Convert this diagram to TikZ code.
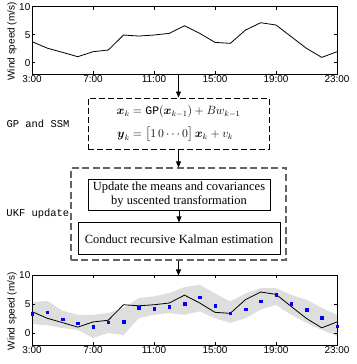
\documentclass[tikz,border=0pt]{standalone}
\usepackage{amsmath}
\usepackage{fontspec}
\setmainfont{Liberation Serif}
\setsansfont{Liberation Sans}
\setmonofont{Liberation Mono}
\usepackage{xcolor}
\usepackage{tikz}
\usetikzlibrary{arrows.meta,positioning,plotmarks}

\definecolor{bandgray}{RGB}{222,222,222}
\definecolor{ukfgray}{RGB}{100,100,100}

% frame, ticks and measured wind speed of one plot
\newcommand{\windframe}{%
  \draw[line width=0.8bp] (0,3.75) \foreach[count=\i] \v in {2.6,1.85,1.07,1.96,2.26,4.94,4.76,4.94,5.24,6.6,5.24,3.63,3.45,5.83,7.14,6.73,4.64,2.56,0.95,1.96} { -- (\i,\v) };
  \draw[line width=0.7bp] (0,-2) rectangle (20,10);
  \foreach \v in {0,5,10} {
    \draw[line width=0.7bp] (0,\v) -- ++(3bp,0) (20,\v) -- ++(-3bp,0);
    \node[ticklab, anchor=east] (y\v) at (0,\v) {\v};
  }
  \foreach \h/\t in {0/3:00,4/7:00,8/11:00,12/15:00,16/19:00,20/23:00} {
    \draw[line width=0.7bp] (\h,-2) -- ++(0,3bp) (\h,10) -- ++(0,-3bp);
    \node[ticklab, anchor=north] (x\h) at (\h,-2) {\t};
  }
  \node[ticklab, rotate=90] (ylab) at (-1.31,3.8) {Wind speed (m/s)};
}

\begin{document}
\begin{tikzpicture}[
  x=1bp, y=1bp,
  ticklab/.style={font=\sffamily\fontsize{10}{11}\selectfont, inner sep=1.5bp},
  side/.style={font=\ttfamily\fontsize{10.5}{12}\selectfont, inner sep=0pt},
  dbox/.style={draw, line width=0.9bp, dash pattern=on 6bp off 3bp},
  ubox/.style={draw=ukfgray, line width=1.1bp, dash pattern=on 7bp off 3.5bp},
  sbox/.style={draw, line width=0.8bp, align=center, inner sep=2pt, font=\fontsize{12.5}{15}\selectfont},
  arr/.style={-{Triangle[length=6bp,width=5bp]}, line width=0.7bp}
]
  \useasboundingbox (0,0) rectangle (357,364);

  % measured wind speed
  \begin{scope}[shift={(32,301.3)}, x=15.25bp, y=5.6bp, name prefix=top-]
    \windframe
    \coordinate (out) at (9.6,-2);
  \end{scope}

  % model boxes
  \node[dbox, minimum width=181bp, minimum height=51bp] (gp) at (178.5,240.5)
    {\fontsize{11.5}{13}\selectfont
     $\begin{aligned}
       \boldsymbol{x}_k &= \mathtt{GP}(\boldsymbol{x}_{k-1}) + B w_{k-1}\\[5bp]
       \boldsymbol{y}_k &= \bigl[1\,0\cdots 0\bigr]\,\boldsymbol{x}_k + v_k
     \end{aligned}$};
  \node[side, left=18bp of gp.west] (gplab) {GP and SSM};
  \node[ubox, minimum width=215bp, minimum height=92bp] (ukf) at (178.5,150) {};
  \node[side, left=1bp of ukf.west] (ukflab) {UKF update};
  \node[sbox, minimum width=182bp, minimum height=31bp] (upd) at (179,169.5)
    {Update the means and covariances\\by uscented transformation};
  \node[sbox, minimum width=202bp, minimum height=32bp, below=12bp of upd] (kal)
    {Conduct recursive Kalman estimation};

  % UKF estimate
  \begin{scope}[shift={(32,30.7)}, x=15.25bp, y=5.78bp, name prefix=bot-]
    \fill[bandgray] (0,5.4) \foreach[count=\i] \v in {5.6,3.9,3.2,3.2,3.5,4.4,6.1,6.4,6.95,8.0,8.4,6.9,5.5,6.9,7.8,7.8,6.65,5.8,4.4,3.2} { -- (\i,\v) }
      -- (20,-0.5) \foreach[count=\i] \v in {0.6,1.8,3.2,4.9,4.1,2.6,1.8,2.6,3.8,3.2,3.5,3.2,2.6,-0.3,0.05,-0.8,0.6,0.9,1.4,1.6} { -- (20-\i,\v) } -- cycle;
    \windframe
    \draw[blue] plot[only marks, mark=square*, mark size=1.3bp] coordinates {(0,3.35) (1,3.64) (2,2.43) (3,1.73) (4,1.16) (5,1.9) (6,2.0) (7,4.45) (8,4.22) (9,4.57) (10,5.1) (11,6.24) (12,4.74) (13,3.47) (14,4.16) (15,5.54) (16,6.64) (17,5.14) (18,4.05) (19,2.72) (20,1.2)};
    \coordinate (in) at (9.6,10);
  \end{scope}

  \draw[arr] (gp.north |- top-out) -- (gp.north);
  \draw[arr] (gp.south) -- (ukf.north);
  \draw[arr] (upd.south) -- (kal.north);
  \draw[arr] (ukf.south) -- (ukf.south |- bot-in);
\end{tikzpicture}
\end{document}
